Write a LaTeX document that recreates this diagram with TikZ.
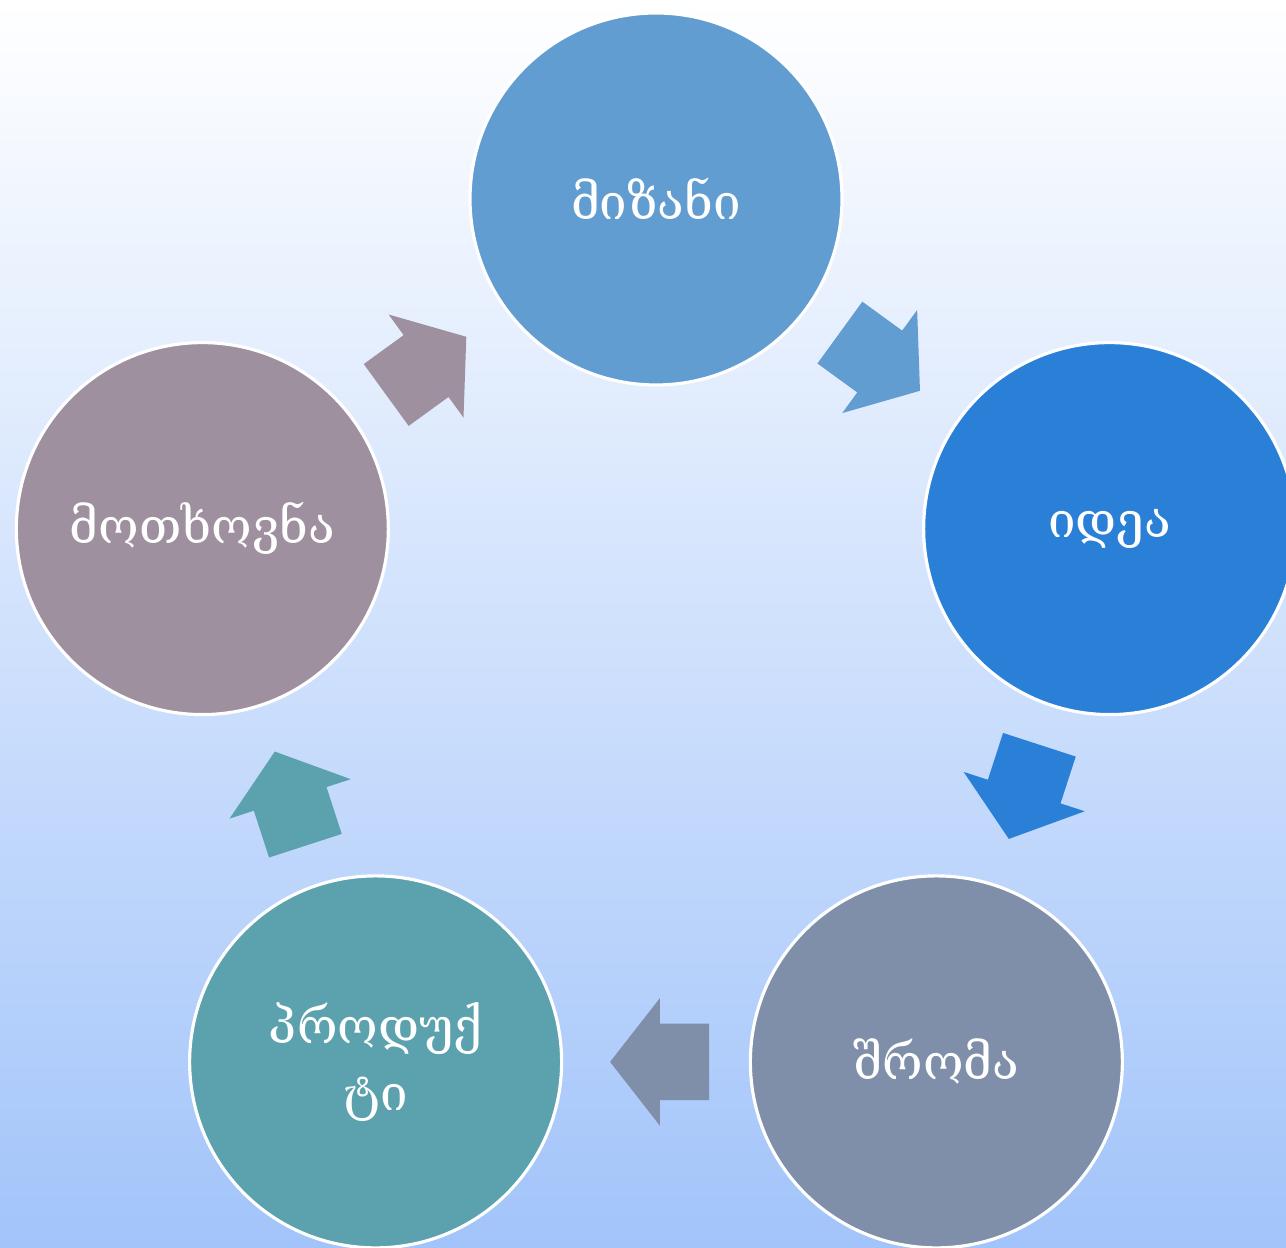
\documentclass[tikz,border=0pt]{standalone}
\usepackage{fontspec}
\newfontfamily\geofont{DejaVu Serif}
\usepackage{xcolor}
\definecolor{goalBlue}{HTML}{629DD1}
\definecolor{ideaBlue}{HTML}{2A7FD6}
\definecolor{workGray}{HTML}{7F8FA9}
\definecolor{productTeal}{HTML}{5BA2AE}
\definecolor{demandMauve}{HTML}{9E909F}
\definecolor{bgTop}{HTML}{FFFFFF}
\definecolor{bgMid}{HTML}{DCE7FC}
\definecolor{bgBottom}{HTML}{A2C4FA}
\usepackage{tikz}
\usetikzlibrary{shapes,shapes.arrows,positioning,calc}
\tikzset{%
  stageCircle/.style={%
    circle,
    draw=white,
    line width=0.9pt,
    minimum size=3.72cm,
    inner sep=0pt,
    align=center,
    text=white,
    font=\geofont\fontsize{14}{19}\selectfont
  },
  cycleArrow/.style={%
    single arrow,
    draw=none,
    inner xsep=0pt,
    inner ysep=0.375cm,
    minimum height=0.99cm,
    single arrow head extend=0.255cm,
    single arrow tip angle=104,
    rotate=#1,
    xshift=-0.185cm
  }
}
\begin{document}
\begin{tikzpicture}
            \shade[top color=bgTop, middle color=bgMid, bottom color=bgBottom] (0,0) rectangle (12.86,-12.48);
            \useasboundingbox (0,0) rectangle (12.86,-12.48);
            \coordinate (hub) at (6.56,-6.76);

            \node[stageCircle, fill=goalBlue] (goal) at ($(hub)+(90:4.77)$) {მიზანი};
            \node[stageCircle, fill=ideaBlue] (idea) at ($(hub)+(18:4.77)$) {იდეა};
            \node[stageCircle, fill=workGray] (work) at ($(hub)+(-54:4.77)$) {შრომა};
            \node[stageCircle, fill=productTeal] (product) at ($(hub)+(-126:4.77)$) {პროდუქ\\ტი};
            \node[stageCircle, fill=demandMauve] (demand) at ($(hub)+(162:4.77)$) {მოთხოვნა};

            \node[cycleArrow=-36, fill=goalBlue] (goalToIdea) at ($(goal)!0.5!(idea)$) {};
            \node[cycleArrow=-108, fill=ideaBlue] (ideaToWork) at ($(idea)!0.5!(work)$) {};
            \node[cycleArrow=180, fill=workGray] (workToProduct) at ($(work)!0.5!(product)$) {};
            \node[cycleArrow=108, fill=productTeal] (productToDemand) at ($(product)!0.5!(demand)$) {};
            \node[cycleArrow=36, fill=demandMauve] (demandToGoal) at ($(demand)!0.5!(goal)$) {};
        \end{tikzpicture}
\end{document}
